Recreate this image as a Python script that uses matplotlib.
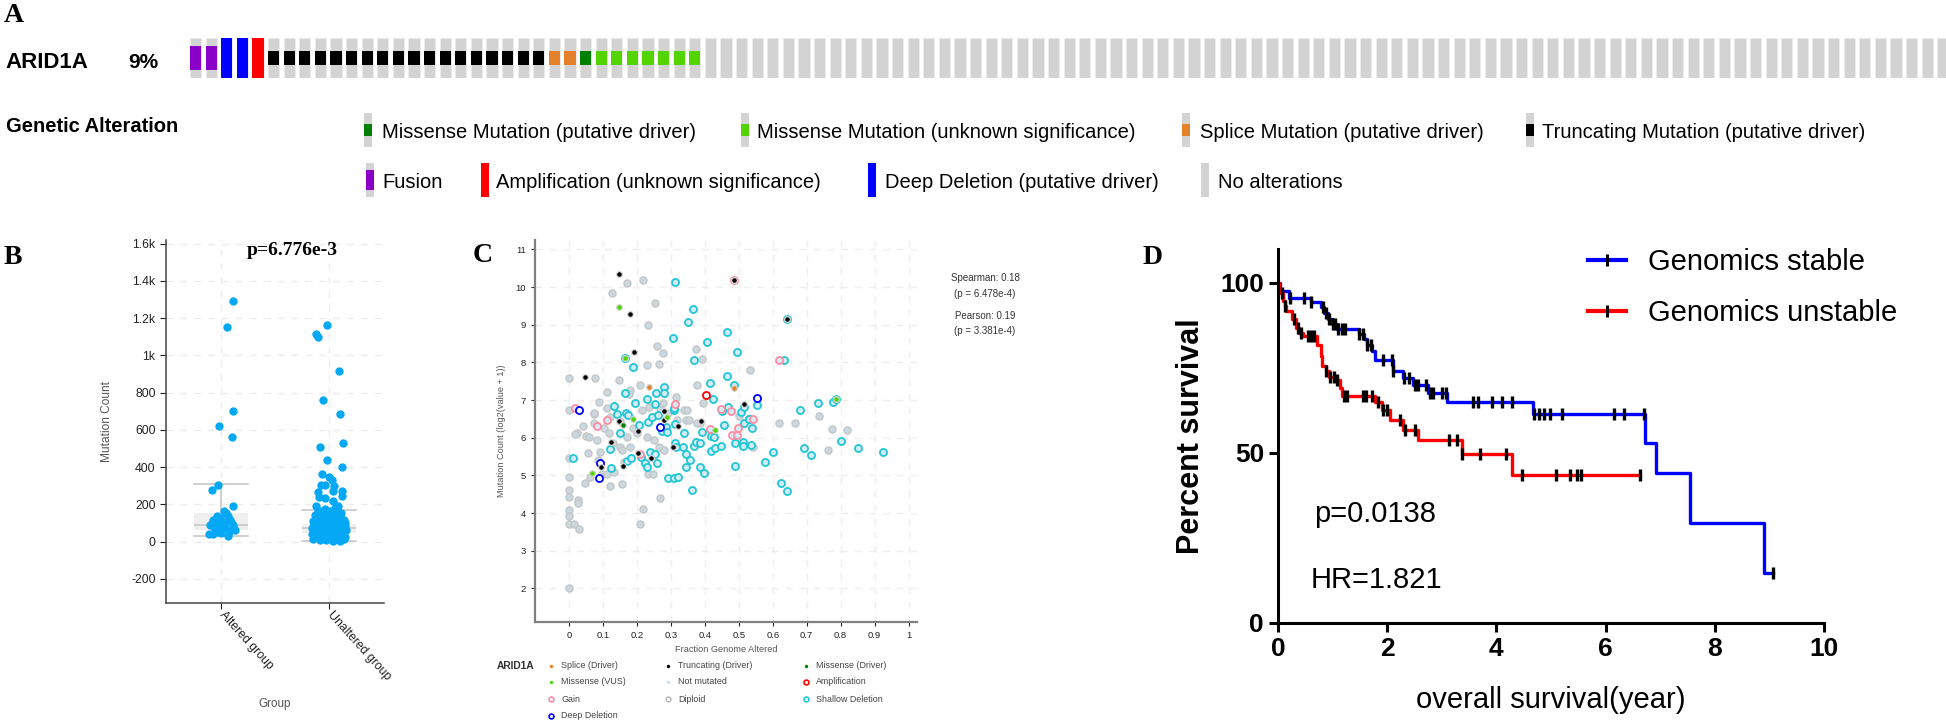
#!/usr/bin/env python3
"""
ARID1A summary figure: oncoprint (A), mutation count by group (B),
fraction genome altered vs mutation count (C) and survival curves (D).
"""

import matplotlib

matplotlib.use("Agg")
import matplotlib.pyplot as plt
import numpy as np
from matplotlib.lines import Line2D
from matplotlib.patches import Rectangle

plt.rcParams["font.family"] = ["Liberation Sans", "DejaVu Sans"]

W_PX, H_PX = 1946, 723

# ---------------- panel A: oncoprint ----------------
ONCO_GENE = "ARID1A"
ONCO_PCT = "9%"
ONCO_ALTERATIONS = (
    ["fusion"] * 2 + ["deep_del"] * 2 + ["amp"] + ["trunc"] * 18
    + ["splice"] * 2 + ["mis_driver"] + ["mis_vus"] * 7
)
ONCO_N_SHOWN = 113

ALT_COLORS = {
    "none": "#D3D3D3",
    "fusion": "#8B00C9",
    "deep_del": "#0000FF",
    "amp": "#FF0000",
    "trunc": "#000000",
    "splice": "#E5802B",
    "mis_driver": "#008000",
    "mis_vus": "#53D400",
}
ALT_SPAN = {
    "none": (0.0, 1.0),
    "fusion": (0.2, 0.8),
    "deep_del": (0.0, 1.0),
    "amp": (0.0, 1.0),
    "trunc": (0.33, 0.67),
    "splice": (0.33, 0.67),
    "mis_driver": (0.33, 0.67),
    "mis_vus": (0.33, 0.67),
}
ALT_LEGEND_LABELS = [
    "Missense Mutation (putative driver)",
    "Missense Mutation (unknown significance)",
    "Splice Mutation (putative driver)",
    "Truncating Mutation (putative driver)",
    "Fusion",
    "Amplification (unknown significance)",
    "Deep Deletion (putative driver)",
    "No alterations",
]
ALT_LEGEND_KINDS = ["mis_driver", "mis_vus", "splice", "trunc",
                    "fusion", "amp", "deep_del", "none"]

# ---------------- panel B: mutation count ----------------
B_GROUPS = ["Altered group", "Unaltered group"]
B_P_TEXT = "p=6.776e-3"
B_ALT_JIT = [0.114, 0.058, 0.114, -0.022, 0.098, -0.03, -0.08, 0.114, 0.028, 0.046,
             -0.04, -0.01, -0.07, 0.083, -0.10, 0.114, -0.025, 0.037, 0.129, -0.055,
             -0.115, -0.07, 0.068, 0.0, 0.083, 0.114, -0.01, 0.052, 0.06, -0.05,
             0.02, 0.09, -0.08]
B_ALT_VAL = [1291, 1152, 702, 621, 564, 305, 275, 193, 162, 153,
             136, 127, 118, 118, 91, 91, 82, 73, 64, 64,
             38, 38, 32, 46, 55, 73, 100, 109, 140, 50,
             70, 105, 92]
B_UNALT_JIT = [-0.015, -0.117, -0.105, 0.095, -0.058, 0.10, 0.126, -0.083, -0.015, 0.12,
               -0.068, -0.003, 0.028, -0.077, -0.034, 0.046, 0.037, 0.117, -0.102, 0.123,
               -0.095, -0.04, 0.034, -0.117, 0.083,
               -0.15, -0.12, -0.09, -0.06, -0.03, 0.0, 0.03, 0.06, 0.09, 0.12, 0.15,
               -0.14, -0.11, -0.08, -0.05, -0.02, 0.01, 0.04, 0.07, 0.10, 0.13, 0.155,
               -0.13, -0.10, -0.07, -0.04, -0.01, 0.02, 0.05, 0.08, 0.11, 0.14,
               -0.16, -0.125, -0.095, -0.065, -0.035, -0.005, 0.025, 0.055, 0.085, 0.115, 0.145,
               -0.145, -0.115, -0.085, -0.055, -0.025, 0.005, 0.035, 0.065, 0.095, 0.125, 0.15,
               -0.155, -0.105, -0.075, -0.045, -0.015, 0.015, 0.045, 0.075, 0.105, 0.135,
               -0.135, 0.0, 0.06, -0.09, 0.1, -0.03, 0.03]
B_UNALT_VAL = [1163, 1113, 1097, 916, 761, 686, 532, 507, 439, 398,
               364, 346, 332, 302, 305, 296, 270, 270, 264, 246,
               239, 234, 220, 193, 189,
               12, 35, 60, 22, 85, 40, 110, 18, 70, 45, 25,
               95, 130, 8, 150, 55, 165, 75, 120, 5, 90, 62,
               50, 78, 105, 30, 140, 15, 98, 160, 38, 115,
               72, 145, 28, 125, 175, 65, 48, 135, 25, 155, 82,
               108, 58, 88, 42, 118, 92, 3, 52, 128, 68, 100,
               40, 170, 62, 80, 20, 122, 138, 32, 85, 15,
               20, 100, 178, 158, 112, 10, 58]
B_BOX_STATS = [
    dict(whislo=30, q1=64, med=88, q3=154, whishi=308),
    dict(whislo=3, q1=47, med=72, q3=96, whishi=172),
]
B_YTICKS = [-200, 0, 200, 400, 600, 800, 1000, 1200, 1400, 1600]
B_YTICKLABELS = ["-200", "0", "200", "400", "600", "800", "1k", "1.2k", "1.4k", "1.6k"]

# ---------------- panel C: FGA vs mutation count ----------------
C_DIPLOID_X = [0, .078, .217, .171, .126, .253, .232, .259, .278, .230, .266, .147, .112,
               .208, .180, .176, .088, 0, .073, .378, .391, .375, .316, .339, .349, .396,
               .532, .737, .618, .667,
               0, 0, 0, 0, 0, 0, 0, .016, .031, .028, .028, .025, .040, .051, .058,
               .055, .048, .062, .075, .075, .092, .097, .084, .112, .120, .156, .133,
               .149, .269, .217, .208, .385, .376, .344, .353, .501, .764, .774, .820,
               .543, .122, .151, .171, .180, .229, .249, .264, .234, .247, .281, .200,
               .156, .161, .117, .102, .131, .190, .215, .237, .269, .293, .318, .278,
               0, .017, .086, .112]
C_DIPLOID_Y = [7.58, 7.60, 10.19, 10.12, 9.85, 9.59, 9.00, 8.43, 8.25, 7.93, 7.96, 7.54, 7.22,
               7.39, 7.27, 7.17, 6.95, 6.73, 6.64, 7.41, 8.10, 8.36, 7.08, 6.74, 6.74, 6.91,
               7.80, 6.58, 6.38, 6.38,
               5.47, 4.96, 4.61, 4.43, 4.08, 3.92, 3.71, 3.71, 3.59, 4.36, 4.27, 6.13, 6.32, 6.04, 6.01,
               5.60, 4.79, 4.96, 6.65, 6.38, 5.63, 5.05, 5.94, 6.78, 4.72, 4.76, 5.10,
               5.76, 4.41, 4.10, 3.70, 6.40, 6.40, 6.47, 6.47, 6.58, 5.67, 6.22, 6.20,
               5.76, 6.56, 6.45, 6.03, 5.76, 6.03, 5.94, 5.76, 5.03, 5.04, 5.67, 6.12,
               5.67, 5.36, 6.12, 6.25, 5.85, 6.25, 6.73, 6.81, 6.78, 6.65, 6.47, 6.91,
               2.00, 6.11, 5.40, 5.04]
C_SHALLOW_X = [.312, .366, .352, .307, .408, .464, .496, .369, .190, .165, .465, .416, .279,
               .279, .257, .231, .195, .165, .252, .310, .423, .485, .134,
               .641, .632, .554, .508, .515, .469, .452, .732, .777, .787, .681, .516, .531, .456,
               .012, .120, .124, .141, .151, .169, .173, .171, .183, .205, .212, .223, .231,
               .233, .244, .239, .254, .259, .261, .275, .285, .289, .292, .309, .321, .311,
               .314, .308, .312, .340, .337, .344, .345, .357, .362, .367, .373, .386, .387,
               .398, .391, .418, .430, .447, .418, .426, .489, .489, .514, .536, .512, .529,
               .540, .576, .601, .625, .642, .691, .713, .801, .851, .925]
C_SHALLOW_Y = [10.13, 9.43, 9.07, 8.65, 8.53, 8.80, 8.28, 8.07, 7.88, 8.12, 7.64, 7.46, 7.35,
               7.18, 7.18, 7.04, 6.92, 7.18, 6.89, 6.75, 7.03, 7.41, 6.84,
               9.16, 8.07, 6.87, 6.68, 6.81, 6.81, 6.70, 6.93, 6.94, 7.04, 6.73, 6.40, 6.49, 6.33,
               5.47, 5.69, 5.19, 6.63, 6.14, 6.66, 6.60, 5.38, 5.47, 6.34, 5.48, 5.34, 5.23,
               6.41, 6.54, 5.63, 5.58, 5.34, 6.60, 6.18, 6.29, 6.15, 4.92, 4.92, 4.96, 5.87,
               5.75, 6.79, 6.36, 6.12, 5.76, 5.56, 5.23, 5.41, 4.61, 5.79, 5.89, 5.85, 5.23,
               5.06, 6.16, 5.65, 5.72, 5.78, 6.04, 6.03, 5.85, 5.26, 5.89, 5.81, 5.79, 6.51,
               6.27, 5.37, 5.61, 4.81, 4.59, 5.72, 5.54, 5.92, 5.73, 5.63]
C_GAIN_X = [.019, .313, .448, .476, .619, .543, .084, .112, .416, .481, .494, .499, .210, .486]
C_GAIN_Y = [6.78, 6.89, 6.76, 6.72, 8.07, 6.50, 6.31, 6.47, 6.23, 6.07, 6.07, 6.27, 5.58, 10.18]
C_AMP_X = [.404]
C_AMP_Y = [7.14]
C_DEEP_X = [.031, .554, .092, .089, .269]
C_DEEP_Y = [6.73, 7.05, 5.34, 4.92, 6.29]
C_TRUNC_X = [.148, .180, .192, .048, .280, .388, .486, .641, .515, .146, .280, .204, .320,
             .125, .202, .242, .306, .158, .094]
C_TRUNC_Y = [10.35, 9.29, 8.27, 7.61, 6.70, 6.45, 10.18, 9.16, 6.89, 6.45, 6.47, 6.19, 6.31,
             5.89, 5.60, 5.47, 5.76, 5.26, 5.23]
C_SPLICE_X = [.237, .487]
C_SPLICE_Y = [7.36, 7.33]
C_MIS_DRV_X = [.159]
C_MIS_DRV_Y = [6.34]
C_MIS_VUS_X = [.147, .165, .190, .288, .430, .068, .787]
C_MIS_VUS_Y = [9.47, 8.12, 6.50, 6.56, 6.20, 5.07, 7.04]
C_STATS = ["Spearman: 0.18", "(p = 6.478e-4)", "Pearson: 0.19", "(p = 3.381e-4)"]

# ---------------- panel D: survival ----------------
STABLE_T = [0, 0.03, 0.21, 0.60, 0.78, 0.85, 0.92, 0.99, 1.08, 1.48, 1.57, 1.63, 1.72, 1.78,
            2.11, 2.29, 2.47, 2.74, 3.10, 4.67, 6.72, 6.93, 7.55, 8.91]
STABLE_S = [100, 97.7, 95.5, 94.3, 92.8, 91.3, 89.3, 87.8, 86.6, 84.9, 83.4, 81.9, 79.9, 77.5,
            74.0, 72.0, 70.1, 67.6, 65.1, 61.5, 53.0, 44.1, 29.3, 14.6]
STABLE_END = 9.06
STABLE_CENSOR = [0.22, 0.48, 0.6, 0.82, 0.87, 0.93, 1.0, 1.05, 1.1, 1.17, 1.23, 1.48, 1.55,
                 1.63, 1.7, 1.93, 2.08, 2.11, 2.3, 2.4, 2.5, 2.56, 2.71, 2.78, 2.84, 3.0,
                 3.07, 3.58, 3.67, 3.92, 4.11, 4.28, 4.68, 4.78, 4.88, 4.98, 5.2, 6.16,
                 6.34, 6.7, 9.06]
UNSTABLE_T = [0, 0.02, 0.09, 0.12, 0.15, 0.25, 0.33, 0.39, 0.45, 0.72, 0.78, 0.81, 0.87,
              0.93, 1.08, 1.14, 1.17, 1.78, 1.90, 2.05, 2.29, 2.56, 3.37, 4.29]
UNSTABLE_S = [100, 97.2, 94.8, 93.3, 91.8, 89.3, 86.9, 85.4, 84.4, 81.9, 78.5, 75.5, 74.0,
              72.5, 71.5, 69.1, 66.8, 65.1, 62.6, 59.7, 56.9, 53.8, 49.8, 43.5]
UNSTABLE_END = 6.63
UNSTABLE_CENSOR = [0.07, 0.12, 0.3, 0.36, 0.42, 0.55, 0.6, 0.66, 0.88, 0.95, 1.02, 1.08,
                   1.2, 1.26, 1.55, 1.62, 1.72, 1.83, 1.92, 2.0, 2.23, 2.32, 2.5, 3.13,
                   3.28, 3.37, 3.7, 4.17, 4.46, 5.1, 5.35, 5.48, 5.55, 6.63]
D_P_TEXT = "p=0.0138"
D_HR_TEXT = "HR=1.821"


def px_rect(left, top, right, bottom):
    return [left / W_PX, 1 - bottom / H_PX, (right - left) / W_PX, (bottom - top) / H_PX]


def panel_label(ov, x, y, letter):
    ov.text(x, y, letter, fontsize=20, fontweight="bold", va="center", ha="left",
            family=["Liberation Serif", "DejaVu Serif"])


def draw_panel_a(fig, ov):
    left, pitch = 190, 15.6
    ax = fig.add_axes(px_rect(left, 38, W_PX, 78))
    ax.set_xlim(0, (W_PX - left) / pitch)
    ax.set_ylim(0, 1)
    ax.axis("off")
    kinds = ONCO_ALTERATIONS + ["none"] * (ONCO_N_SHOWN - len(ONCO_ALTERATIONS))
    idx = np.arange(len(kinds))
    ax.bar(idx, 1, width=0.72, align="edge", color=ALT_COLORS["none"],
           edgecolor="#ebebeb", linewidth=0.6)
    for kind, color in ALT_COLORS.items():
        if kind == "none":
            continue
        sel = [i for i, k in enumerate(kinds) if k == kind]
        lo, hi = ALT_SPAN[kind]
        ax.bar(sel, hi - lo, bottom=lo, width=0.72, align="edge", color=color, linewidth=0)

    panel_label(ov, 4, 16, "A")
    ov.text(5, 62, ONCO_GENE, fontsize=16, fontweight="bold", va="center")
    ov.text(158, 62, ONCO_PCT, fontsize=15, fontweight="bold", va="center", ha="right")
    ov.text(6, 127, "Genetic Alteration", fontsize=14.5, fontweight="bold", va="center")

    sw_x = [364, 741, 1182, 1526, 366, 481, 868, 1201]
    tx_x = [382, 757, 1200, 1542, 382, 496, 885, 1218]
    row_y = [130, 130, 130, 130, 180, 180, 180, 180]
    for label, kind, sx, tx, yc in zip(ALT_LEGEND_LABELS, ALT_LEGEND_KINDS, sw_x, tx_x, row_y):
        top, h = yc - 17, 34
        ov.add_patch(Rectangle((sx, top), 8, h, color=ALT_COLORS["none"], lw=0))
        lo, hi = ALT_SPAN[kind]
        ov.add_patch(Rectangle((sx, top + (1 - hi) * h), 8, (hi - lo) * h,
                               color=ALT_COLORS[kind], lw=0))
        ov.text(tx, yc + 2, label, fontsize=14.5, va="center")


def draw_panel_b(fig, ov):
    ax = fig.add_axes(px_rect(166, 240, 384, 603))
    ax.bxp(B_BOX_STATS, positions=[0, 1], widths=0.5, capwidths=0.5, showfliers=False,
           patch_artist=True,
           boxprops=dict(facecolor="#efefef", edgecolor="none"),
           medianprops=dict(color="#c8c8c8", lw=1.2),
           whiskerprops=dict(color="#c8c8c8", lw=1.2),
           capprops=dict(color="#c8c8c8", lw=1.2))
    ax.scatter(np.array(B_ALT_JIT), B_ALT_VAL, s=36, color="#05A8F5", lw=0, zorder=3)
    ax.scatter(1 + np.array(B_UNALT_JIT), B_UNALT_VAL, s=36, color="#05A8F5", lw=0, zorder=3)
    ax.set_xlim(-0.51, 1.51)
    ax.set_ylim(-330, 1620)
    ax.set_yticks(B_YTICKS, B_YTICKLABELS)
    ax.set_xticks([0, 1], B_GROUPS, rotation=-48, ha="left", va="center",
                  rotation_mode="anchor")
    ax.tick_params(labelsize=8.8, colors="#222222", length=4)
    ax.grid(True, ls=(0, (5, 5)), color="#ececec", lw=1)
    ax.set_axisbelow(True)
    for side in ("top", "right"):
        ax.spines[side].set_visible(False)
    for side in ("left", "bottom"):
        ax.spines[side].set_color("#444444")
        ax.spines[side].set_linewidth(1.1)
    ax.set_ylabel("Mutation Count", fontsize=8.6, color="#555555", ha="center", va="center")
    ax.yaxis.set_label_coords(-0.27, 0.5)
    ax.set_xlabel("Group", fontsize=8.4, color="#555555", ha="center", va="center")
    ax.xaxis.set_label_coords(0.5, -0.278)
    ax.text(0.578, 0.972, B_P_TEXT, transform=ax.transAxes, ha="center", va="center",
            fontsize=14, fontweight="bold", family=["Liberation Serif", "DejaVu Serif"])
    panel_label(ov, 4, 257, "B")


def draw_panel_c(fig, ov):
    ax = fig.add_axes(px_rect(535, 240, 917, 622))
    grey_face, grey_edge = "#ccd8de", "#c3c7ca"
    light = "#d4ecf5"
    ring = 26
    ax.scatter(C_DIPLOID_X, C_DIPLOID_Y, s=ring, facecolor=grey_face, edgecolor=grey_edge,
               lw=1.0, zorder=2)
    ax.scatter(C_SHALLOW_X, C_SHALLOW_Y, s=ring, facecolor=light, edgecolor="#22C6D6",
               lw=1.3, zorder=3)
    ax.scatter(C_GAIN_X, C_GAIN_Y, s=ring, facecolor=light, edgecolor="#FF8CA0",
               lw=1.3, zorder=3)
    ax.scatter(C_AMP_X, C_AMP_Y, s=ring, facecolor="white", edgecolor="#FF0000",
               lw=1.3, zorder=3)
    ax.scatter(C_DEEP_X, C_DEEP_Y, s=ring, facecolor="white", edgecolor="#0000FF",
               lw=1.3, zorder=3)
    for xs, ys, color in [(C_TRUNC_X, C_TRUNC_Y, "#000000"),
                          (C_SPLICE_X, C_SPLICE_Y, "#E5802B"),
                          (C_MIS_DRV_X, C_MIS_DRV_Y, "#008000"),
                          (C_MIS_VUS_X, C_MIS_VUS_Y, "#53D400")]:
        ax.scatter(xs, ys, s=17, facecolor=color, edgecolor="#d6d6d6", lw=0.9, zorder=4)

    ax.set_xlim(-0.1, 1.025)
    ax.set_ylim(1.11, 11.25)
    xt = np.round(np.arange(0, 1.01, 0.1), 1)
    ax.set_xticks(xt, ["0" if v == 0 else "1" if v == 1 else f"{v:g}" for v in xt])
    ax.set_yticks(range(2, 12))
    ax.tick_params(labelsize=6.8, colors="#222222", length=3)
    ax.grid(True, ls=(0, (5, 5)), color="#eeeeee", lw=1)
    ax.set_axisbelow(True)
    for side in ("top", "right"):
        ax.spines[side].set_visible(False)
    for side in ("left", "bottom"):
        ax.spines[side].set_color("#808080")
        ax.spines[side].set_linewidth(1.6)
    ax.set_ylabel("Mutation Count (log2(value + 1))", fontsize=6.6, color="#555555",
                  ha="center", va="center")
    ax.yaxis.set_label_coords(-0.089, 0.5)
    ax.set_xlabel("Fraction Genome Altered", fontsize=6.6, color="#555555",
                  ha="center", va="center")
    ax.xaxis.set_label_coords(0.5, -0.073)

    for text, y in zip(C_STATS, [278, 294, 316, 331]):
        ov.text(985, y, text, fontsize=7, color="#333333", ha="center", va="center")

    panel_label(ov, 473, 256, "C")
    ov.text(497, 666, ONCO_GENE, fontsize=7.4, fontweight="bold", va="center", color="#333333")
    entries = [
        ("Splice (Driver)", "dot", "#E5802B"), ("Truncating (Driver)", "dot", "#000000"),
        ("Missense (Driver)", "dot", "#008000"), ("Missense (VUS)", "dot", "#53D400"),
        ("Not mutated", "dot", "#C4E5F5"), ("Amplification", "ring", "#FF0000"),
        ("Gain", "ring", "#FF8CA0"), ("Diploid", "ring", "#BEBEBE"),
        ("Shallow Deletion", "ring", "#22C6D6"), ("Deep Deletion", "ring", "#0000FF"),
    ]
    col_x = [551, 668, 806]
    row_y = [666, 682, 699, 716]
    for k, (label, style, color) in enumerate(entries):
        mx, my = col_x[k % 3], row_y[k // 3]
        if style == "dot":
            ov.scatter([mx], [my], s=6, color=color, lw=0)
        else:
            ov.scatter([mx], [my], s=12, facecolor="white", edgecolor=color, lw=1.2)
        ov.text(mx + 10, my, label, fontsize=6.4, color="#444444", va="center")


def draw_panel_d(fig, ov):
    ax = fig.add_axes(px_rect(1278, 249, 1824, 623))
    curves = [
        (STABLE_T, STABLE_S, STABLE_END, STABLE_CENSOR, "#0000FF", "Genomics stable"),
        (UNSTABLE_T, UNSTABLE_S, UNSTABLE_END, UNSTABLE_CENSOR, "#FF0000", "Genomics unstable"),
    ]
    handles = []
    for t, s, end, censor, color, label in curves:
        tt = np.array(t + [end])
        ss = np.array(s + [s[-1]])
        ax.step(tt, ss, where="post", color=color, lw=2.4, zorder=2)
        pos = np.searchsorted(tt, censor, side="right") - 1
        ax.plot(censor, ss[np.clip(pos, 0, len(ss) - 1)], ls="none", marker="|",
                ms=9, mew=2.4, color="black", zorder=3, clip_on=False)
        handles.append(Line2D([], [], color=color, lw=3, marker="|", ms=9, mew=2.2,
                              mec="black", label=label))
    ax.set_xlim(0, 10)
    ax.set_ylim(0, 110)
    ax.set_xticks(range(0, 11, 2))
    ax.set_yticks([0, 50, 100])
    ax.tick_params(labelsize=19, width=2.2, length=6.5, colors="black")
    for lab in ax.get_xticklabels() + ax.get_yticklabels():
        lab.set_fontweight("bold")
    for side in ("top", "right"):
        ax.spines[side].set_visible(False)
    for side in ("left", "bottom"):
        ax.spines[side].set_linewidth(2.2)
    ax.set_ylabel("Percent survival", fontsize=22, fontweight="bold", ha="center", va="center")
    ax.yaxis.set_label_coords(-0.159, 0.5)
    ax.set_xlabel("overall survival(year)", fontsize=21, ha="center", va="center")
    ax.xaxis.set_label_coords(0.5, -0.206)
    ax.text(0.66, 32, D_P_TEXT, fontsize=21, va="center")
    ax.text(0.6, 12.6, D_HR_TEXT, fontsize=21, va="center")
    ax.legend(handles=handles, loc="upper left", bbox_to_anchor=(1588 / W_PX, 1 - 248 / H_PX),
              bbox_transform=fig.transFigure, frameon=False, fontsize=21, borderpad=0,
              borderaxespad=0, handlelength=1.3, handletextpad=0.75, labelspacing=0.8,
              numpoints=1)
    panel_label(ov, 1143, 258, "D")


def main() -> None:
    fig = plt.figure(figsize=(W_PX / 100, H_PX / 100), dpi=100)
    ov = fig.add_axes([0, 0, 1, 1])
    ov.set_xlim(0, W_PX)
    ov.set_ylim(H_PX, 0)
    ov.axis("off")

    draw_panel_a(fig, ov)
    draw_panel_b(fig, ov)
    draw_panel_c(fig, ov)
    draw_panel_d(fig, ov)

    fig.savefig("out.png", dpi=100, facecolor="white")
    plt.close(fig)


if __name__ == "__main__":
    main()
